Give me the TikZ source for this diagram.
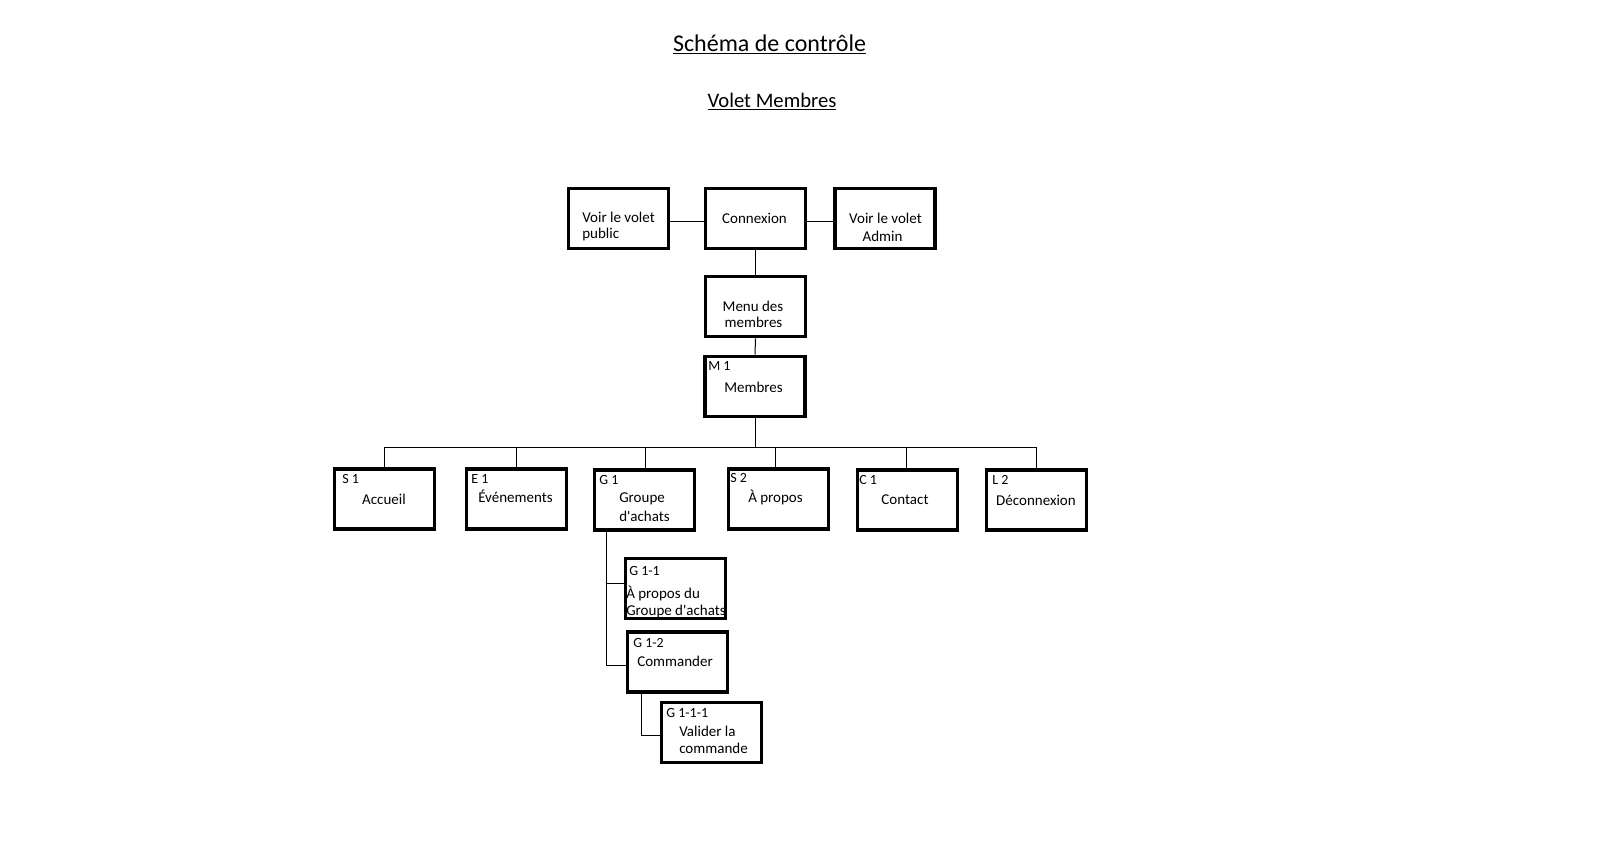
\documentclass[tikz,border=0pt]{standalone}
\usepackage{fontspec}
\setmainfont{Carlito}
\begin{document}
\begin{tikzpicture}[x=0.75pt,y=-0.75pt,
  box/.style={draw=black, line width=2.8pt, fill=white, minimum width=75pt, minimum height=45pt, inner sep=0pt},
  conn/.style={draw=black, line width=0.75pt},
  lbl/.style={anchor=base west, inner sep=0pt, font=\fontsize{10.5}{12}\selectfont},
  txc/.style={anchor=base, inner sep=0pt, font=\fontsize{11.25}{13}\selectfont},
  txl/.style={anchor=base west, inner sep=0pt, font=\fontsize{11.25}{13}\selectfont}]
\useasboundingbox (0,0) rectangle (1600,861);
\fill[white] (0,0) rectangle (1600,861);

% titles
\node[anchor=base, inner sep=0pt, font=\fontsize{18}{20}\selectfont] (title) at (769.5,51) {\underline{Schéma de contrôle}};
\node[anchor=base, inner sep=0pt, font=\fontsize{15.5}{18}\selectfont] (subtitle) at (772,107) {\underline{Volet Membres}};

% boxes
\node[box] (pub) at (618.5,218.5) {};
\node[box] (cnx) at (755.5,218.5) {};
\node[box] (adm) at (885,218.5) {};
\node[box] (menu) at (755.5,306.5) {};
\node[box] (m1) at (755,386.5) {};
\node[box] (s1) at (384.5,499) {};
\node[box] (e1) at (516.5,499) {};
\node[box] (g1) at (644.5,500) {};
\node[box] (s2) at (778.5,499) {};
\node[box] (c1) at (907.5,500) {};
\node[box] (l2) at (1036.5,500) {};
\node[box] (g11) at (675.5,588.5) {};
\node[box] (g12) at (677.5,662) {};
\node[box] (g111) at (711.5,732.5) {};

% connectors
\draw[conn] ([yshift=-2.6pt]pub.east) -- ([yshift=-2.6pt]cnx.west);
\draw[conn] ([yshift=-2.6pt]cnx.east) -- ([yshift=-2.6pt]adm.west);
\draw[conn] (cnx.south) -- (menu.north);
\draw[conn] (menu.south) -- (m1.north);
\coordinate (busL) at (384,447);
\coordinate (busR) at (1036,447);
\draw[conn] (m1.south) -- (m1.south |- busL);
\draw[conn] (busL) -- (busR);
\draw[conn] (s1.north) -- (s1.north |- busL);
\draw[conn] (e1.north) -- (e1.north |- busL);
\draw[conn] ([xshift=1.1pt]g1.north) -- ([xshift=1.1pt]g1.north |- busL);
\draw[conn] ([xshift=-2.6pt]s2.north) -- ([xshift=-2.6pt]s2.north |- busL);
\draw[conn] ([xshift=-1.1pt]c1.north) -- ([xshift=-1.1pt]c1.north |- busL);
\draw[conn] (l2.north) -- (l2.north |- busL);
\coordinate (gv) at (606,532);
\coordinate (j1) at (606,583);
\coordinate (j2) at (606,665);
\draw[conn] (gv |- g1.south) -- (j2) -- (j2 -| g12.west);
\draw[conn] (j1) -- (j1 -| g11.west);
\coordinate (k1) at (641,735);
\draw[conn] (k1 |- g12.south) -- (k1) -- (k1 -| g111.west);

% texts
\node[txl] (pubA) at (582,222) {Voir le volet};
\node[txl] (pubB) at (582,238) {public};
\node[txc] (cnxA) at (754.5,223) {Connexion};
\node[txc] (admA) at (885.5,223) {Voir le volet};
\node[txc] (admB) at (882.5,241) {Admin};
\node[txc] (menuA) at (753,311) {Menu des};
\node[txc] (menuB) at (753.5,327) {membres};
\node[lbl] (m1L) at (708,370) {M 1};
\node[txc] (m1A) at (753.5,392) {Membres};
\node[lbl] (s1L) at (342,483) {S 1};
\node[txc] (s1A) at (384,504) {Accueil};
\node[lbl] (e1L) at (471,483) {E 1};
\node[txc] (e1A) at (515.5,502) {Événements};
\node[lbl] (g1L) at (599,484) {G 1};
\node[txl] (g1A) at (619,502) {Groupe};
\node[txl] (g1B) at (619,521) {d\textquotesingle achats};
\node[lbl] (s2L) at (730,482) {S 2};
\node[txc] (s2A) at (775.5,502) {À propos};
\node[lbl] (c1L) at (859,484) {C 1};
\node[txc] (c1A) at (905,504) {Contact};
\node[lbl] (l2L) at (992,484) {L 2};
\node[txc] (l2A) at (1036,505) {Déconnexion};
\node[lbl] (g11L) at (629,575) {G 1-1};
\node[txl] (g11A) at (626,598) {À propos du};
\node[txl] (g11B) at (626,615) {Groupe d\textquotesingle achats};
\node[lbl] (g12L) at (633,647) {G 1-2};
\node[txl] (g12A) at (637,666) {Commander};
\node[lbl] (g111L) at (666,717) {G 1-1-1};
\node[txl] (g111A) at (679,736) {Valider la};
\node[txl] (g111B) at (679,753) {commande};
\end{tikzpicture}
\end{document}
